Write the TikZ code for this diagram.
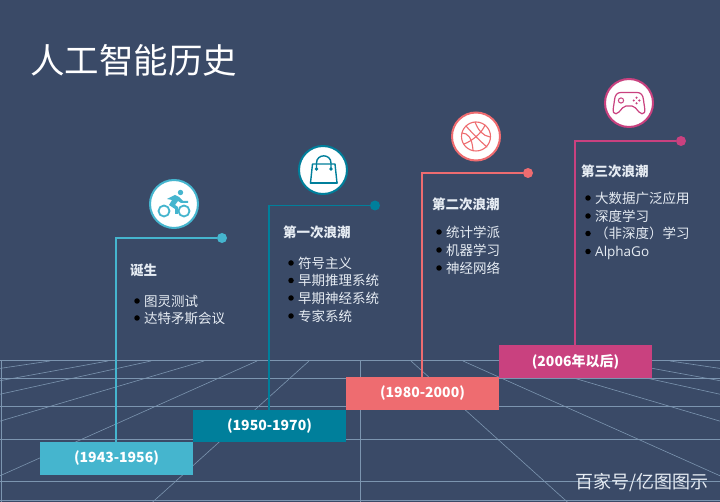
\documentclass[tikz,border=0pt]{standalone}
\usepackage{fontspec}
\setmainfont{Noto Sans CJK SC}
\newfontfamily\latinfont{Open Sans}
\definecolor{pagebg}{HTML}{3A4A67}
\definecolor{gridline}{HTML}{7C95B0}
\definecolor{lake}{HTML}{45B5CE}
\definecolor{deepsea}{HTML}{007F9B}
\definecolor{coral}{HTML}{EE6C70}
\definecolor{berry}{HTML}{C9417F}
\definecolor{bodytext}{HTML}{E6ECF3}
\begin{document}
\begin{tikzpicture}[
  x=1pt,y=-1pt,
  floorline/.style={gridline,line width=1pt},
  raysline/.style={gridline,line width=0.6pt},
  yearbox/.style={minimum width=153pt,minimum height=32.5pt,inner sep=0pt,text=white,font=\fontsize{14pt}{16pt}\selectfont\bfseries},
  stem/.style={line width=1.6pt},
  enddot/.style={circle,minimum size=10pt,inner sep=0pt},
  badge/.style={circle,draw=#1,fill=white,line width=2pt,minimum size=48pt,inner sep=0pt},
  heading/.style={anchor=west,inner sep=0pt,text=bodytext,font=\fontsize{13.5pt}{16pt}\selectfont\bfseries},
  itemdot/.style={circle,fill=black,minimum size=5.5pt,inner sep=0pt},
  itemtext/.style={anchor=west,inner sep=0pt,text=bodytext,font=\fontsize{13.5pt}{16pt}\selectfont},
  icon/.style={line width=1.4pt,line join=round,line cap=round}
]
\useasboundingbox (0,0) rectangle (720,502);
\fill[pagebg] (0,0) rectangle (720,502);

\begin{scope}
  \clip (0,361) rectangle (720,502);
  \foreach \gy in {361,379,406,439,481,500}
    \draw[floorline] (0,\gy) -- (720,\gy);
  \foreach \gx in {50,108,151,204,257,309,360,411,463,516,569,612,670}
    \draw[raysline] (\gx,361) -- ({\gx+4*(\gx-360)},545);
  \draw[floorline] (1,361) -- (1,502);
\end{scope}

\node[yearbox,fill=lake] (box1) at (116.5,458.5) {(1943-1956)};
\node[yearbox,fill=deepsea] (box2) at (269.5,426) {(1950-1970)};
\node[yearbox,fill=coral] (box3) at (422.5,393.5) {(1980-2000)};
\node[yearbox,fill=berry] (box4) at (575.5,361.5) {(2006年以后)};

\node[enddot,fill=lake] (dot1) at (222,238) {};
\node[enddot,fill=deepsea] (dot2) at (375,205.5) {};
\node[enddot,fill=coral] (dot3) at (528,173) {};
\node[enddot,fill=berry] (dot4) at (681,141) {};

\draw[stem,lake] ([xshift=-0.5pt]box1.north) |- (dot1);
\draw[stem,deepsea] ([xshift=-0.7pt]box2.north) |- (dot2);
\draw[stem,coral] ([xshift=-0.5pt]box3.north) |- (dot3);
\draw[stem,berry] ([xshift=-0.5pt]box4.north) |- (dot4);

\node[badge=lake] (bike) at (174,204) {};
\node[badge=deepsea] (bag) at (323,170) {};
\node[badge=coral] (ball) at (476,136.5) {};
\node[badge=berry] (pad) at (629,103) {};

\draw[icon,lake,line width=1.8pt] (164,211) circle[radius=5.5pt] (184,211) circle[radius=5.5pt];
\fill[lake] (180.5,192.5) circle[radius=2.7pt];
\fill[lake,icon] (167,199) -- (175,195) -- (179,197) -- (183,201) -- (188,201) -- (188,203)
  -- (181,203) -- (178,201) -- (175,205) -- (178,207) -- (178,214) -- (175,214) -- (175,209) -- (169,205) -- (172,200) -- cycle;

\draw[icon,deepsea] (312.5,164) -- (335,164) -- (337,183) -- (310.5,183) -- cycle;
\draw[icon,deepsea,line width=2pt] (310.5,183) -- (337,183);
\draw[icon,deepsea] (316.5,169) -- (316.5,163) .. controls (316.5,153.5) and (331,153.5) .. (331,163) -- (331,169);
\fill[deepsea] (316.5,169) circle[radius=1.8pt] (331,169) circle[radius=1.8pt];

\draw[icon,coral,line width=1.1pt] (476,136.5) circle[radius=14.5pt];
\draw[icon,coral,line width=1.1pt] (466,126) .. controls (473,134) and (480,141) .. (487,147);
\draw[icon,coral,line width=1.1pt] (464,144) .. controls (472,141) and (482,133) .. (485,125);
\draw[icon,coral,line width=1.1pt] (462,133) .. controls (468,133) and (472,138) .. (473,150);
\draw[icon,coral,line width=1.1pt] (475,122) .. controls (478,130) and (483,136) .. (490,137);

\draw[icon,berry,line width=1.2pt] (621,92.5) -- (637,92.5) .. controls (641,92.5) and (643,95) .. (643.5,100)
  .. controls (644,105) and (645.5,110) .. (644.5,112.5) .. controls (643,114.5) and (641,114) .. (639,112)
  .. controls (636,109) and (635,106) .. (632,106) -- (626,106)
  .. controls (623,106) and (622,109) .. (619,112) .. controls (617,114) and (615,114.5) .. (613.5,112.5)
  .. controls (612.5,110) and (614,105) .. (614.5,100) .. controls (615,95) and (617,92.5) .. (621,92.5) -- cycle;
\draw[icon,berry,line width=1pt] (621,100.5) circle[radius=2.6pt];
\fill[berry] (636.5,97.7) circle[radius=1.2pt] (636.5,103.3) circle[radius=1.2pt]
  (633.7,100.5) circle[radius=1.2pt] (639.3,100.5) circle[radius=1.2pt];

\node[heading] (head1) at (130,270) {诞生};
\foreach \iy/\itxt [count=\i] in {301/图灵测试,318/达特矛斯会议} {
  \node[itemdot] (dota\i) at (137,\iy) {};
  \node[itemtext] (texta\i) at (144,\iy) {\itxt};
}
\node[heading] (head2) at (283,232) {第一次浪潮};
\foreach \iy/\itxt [count=\i] in {263/符号主义,280.5/早期推理系统,298/早期神经系统,316/专家系统} {
  \node[itemdot] (dotb\i) at (291,\iy) {};
  \node[itemtext] (textb\i) at (298,\iy) {\itxt};
}
\node[heading] (head3) at (432,204) {第二次浪潮};
\foreach \iy/\itxt [count=\i] in {232/统计学派,250/机器学习,268/神经网络} {
  \node[itemdot] (dotc\i) at (439,\iy) {};
  \node[itemtext] (textc\i) at (446,\iy) {\itxt};
}
\node[heading] (head4) at (581,171) {第三次浪潮};
\foreach \iy/\itxt [count=\i] in {198/大数据广泛应用,216/深度学习,233.5/（非深度）学习,253/{\latinfont AlphaGo}} {
  \node[itemdot] (dotd\i) at (588,\ifnum\i=4 251.5\else\iy\fi) {};
  \node[itemtext] (textd\i) at (595,\iy) {\itxt};
}

\node[anchor=west,inner sep=0pt,text=white,font=\fontsize{34.5pt}{40pt}\selectfont] (title) at (30,60) {人工智能历史};
\node[anchor=west,inner sep=0pt,text=bodytext,font=\fontsize{18pt}{20pt}\selectfont] (mark) at (575,482) {百家号/亿图图示};
\end{tikzpicture}
\end{document}
